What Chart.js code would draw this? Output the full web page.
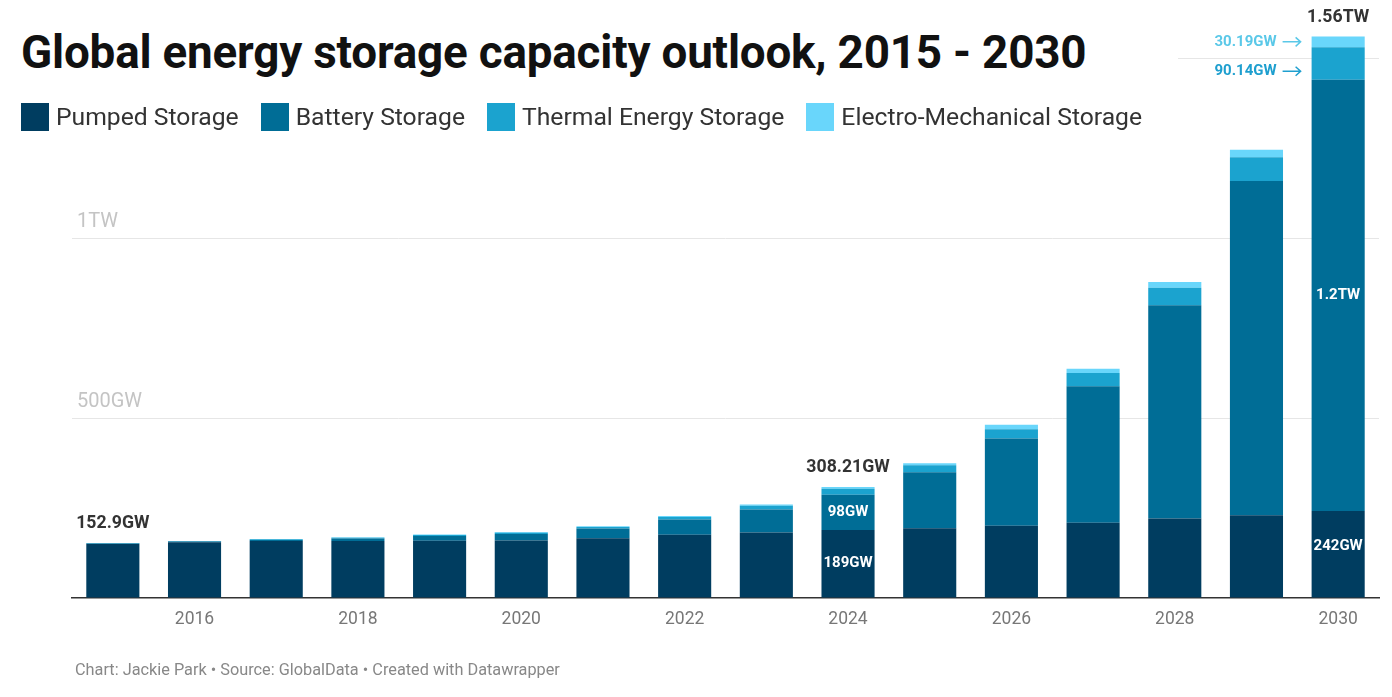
<!DOCTYPE html>
<html>
<head>
<meta charset="utf-8">
<script src="https://cdn.jsdelivr.net/npm/chart.js@4.4.1/dist/chart.umd.min.js"></script>
<style>
  html, body { margin: 0; padding: 0; background: #fff; }
  #wrap { position: relative; width: 1392px; height: 697px; overflow: hidden; font-family: Roboto, "Noto Sans", sans-serif; }
  #chart { position: absolute; left: 0; top: 0; }
  #head { position: absolute; left: 0; top: 0; width: 1178px; height: 92px; background: #fff; }
  h1 { position: absolute; left: 21px; top: 26px; margin: 0; font-size: 45.8px; font-weight: 700; color: #111; white-space: nowrap; letter-spacing: -0.2px; }
  #legend { position: absolute; left: 21px; top: 103px; display: flex; }
  .item { display: flex; align-items: center; margin-right: 22px; }
  .sw { width: 28px; height: 28px; margin-right: 7px; }
  .item span { font-size: 24.7px; line-height: 28px; color: #333; white-space: nowrap; }
  #foot { position: absolute; left: 75px; top: 660px; font-size: 16.3px; color: #888; white-space: nowrap; }
</style>
</head>
<body>
<div id="wrap">
  <canvas id="chart" width="1392" height="697"></canvas>
  <div id="head"><h1>Global energy storage capacity outlook, 2015 - 2030</h1></div>
  <div id="legend"></div>
  <div id="foot">Chart: Jackie Park • Source: GlobalData • Created with Datawrapper</div>
</div>
<script>
// datos (GW)
const years = ['2015', '2016', '2017', '2018', '2019', '2020', '2021', '2022',
               '2023', '2024', '2025', '2026', '2027', '2028', '2029', '2030'];
const xTickLabels = ['', '2016', '', '2018', '', '2020', '', '2022',
                     '', '2024', '', '2026', '', '2028', '', '2030'];
const seriesNames = ['Pumped Storage', 'Battery Storage', 'Thermal Energy Storage', 'Electro-Mechanical Storage'];
const seriesColors = ['#003d60', '#006d96', '#1ba3cf', '#69d6fb'];

const pumped  = [150, 155, 158, 158, 159, 160, 166, 176, 182, 189, 194, 201, 209, 221, 230, 242];
const battery = [1.5, 2, 3, 7, 13, 18, 27, 42, 64, 98, 155, 242, 379, 592, 928, 1197.67];
const thermal = [1, 1, 2, 2.5, 3, 3.5, 4.5, 7, 10, 16.2, 20, 26, 37, 49, 66, 90.14];
const electro = [0.4, 0.5, 0.7, 1, 1.2, 1.5, 2, 3, 4, 5.01, 5.5, 12, 12, 16, 21, 30.19];

const yTickValues = [0, 500, 1000, 1500];
const yTickLabels = ['', '500GW', '1TW', ''];

// etiquetas de totales sobre las barras
const totalLabels = ['152.9GW', '', '', '', '', '', '', '', '', '308.21GW', '', '', '', '', '', '1.56TW'];
// etiquetas dentro de las barras: indice de anio, serie, texto
const insideYear   = [9, 9, 15, 15];
const insideSeries = [0, 1, 0, 1];
const insideText   = ['189GW', '98GW', '242GW', '1.2TW'];
// etiquetas laterales de 2030
const sideSeries = [3, 2];
const sideText   = ['30.19GW', '90.14GW'];
const sideColors = ['#5ac8e8', '#1e9fcf'];

// leyenda en HTML
const legendEl = document.getElementById('legend');
seriesNames.forEach((n, i) => {
    const it = document.createElement('div');
    it.className = 'item';
    it.innerHTML = `<div class="sw" style="background:${seriesColors[i]}"></div><span>${n}</span>`;
    legendEl.appendChild(it);
});

const allSeries = [pumped, battery, thermal, electro];

const labelPlugin = {
    id: 'barLabels',
    afterDatasetsDraw(chart) {
        const { ctx, scales: { x, y } } = chart;
        ctx.save();
        ctx.textAlign = 'center';
        ctx.textBaseline = 'middle';

        // totales
        ctx.font = 'bold 17.7px Roboto';
        ctx.fillStyle = '#333';
        totalLabels.forEach((t, i) => {
            if (!t) return;
            const sum = allSeries.reduce((a, s) => a + s[i], 0);
            ctx.fillText(t, x.getPixelForValue(i), y.getPixelForValue(sum) - 19);
        });

        // dentro de las barras
        ctx.font = 'bold 15px Roboto';
        ctx.fillStyle = '#fff';
        insideText.forEach((t, k) => {
            const bar = chart.getDatasetMeta(insideSeries[k]).data[insideYear[k]];
            let cy = (bar.y + bar.base) / 2;
            if (k === 2) cy -= 8; // 242GW algo mas arriba
            ctx.fillText(t, bar.x, cy);
        });

        // laterales con flecha
        const last = years.length - 1;
        sideText.forEach((t, k) => {
            const bar = chart.getDatasetMeta(sideSeries[k]).data[last];
            const left = bar.x - bar.width / 2;
            const cy = k === 0 ? (bar.y + bar.base) / 2 : bar.y + 24;
            ctx.fillStyle = sideColors[k];
            ctx.strokeStyle = sideColors[k];
            ctx.textAlign = 'right';
            ctx.font = 'bold 15px Roboto';
            ctx.fillText(t, left - 35, cy);
            ctx.lineWidth = 1.5;
            ctx.beginPath();
            ctx.moveTo(left - 29, cy);
            ctx.lineTo(left - 11, cy);
            ctx.moveTo(left - 16, cy - 4.5);
            ctx.lineTo(left - 11, cy);
            ctx.lineTo(left - 16, cy + 4.5);
            ctx.stroke();
        });
        ctx.restore();
    }
};

new Chart(document.getElementById('chart'), {
    type: 'bar',
    data: {
        labels: years,
        datasets: allSeries.map((s, i) => ({
            label: seriesNames[i],
            data: s,
            backgroundColor: seriesColors[i],
            borderWidth: 0,
            barPercentage: 0.65,
            categoryPercentage: 1
        }))
    },
    options: {
        responsive: false,
        animation: false,
        layout: { padding: { left: 72, right: 13, top: 22, bottom: 0 } },
        plugins: {
            legend: { display: false },
            tooltip: { enabled: false }
        },
        scales: {
            x: {
                stacked: true,
                grid: { display: false },
                border: { display: true, color: '#333', width: 1.5 },
                ticks: {
                    autoSkip: false,
                    maxRotation: 0,
                    color: '#777',
                    padding: 3,
                    font: { family: 'Roboto', size: 17.5 },
                    callback: (v, i) => xTickLabels[i]
                },
                afterFit: s => { s.height = 99; }
            },
            y: {
                stacked: true,
                min: 0,
                max: 1600,
                afterBuildTicks: s => { s.ticks = yTickValues.map(v => ({ value: v })); },
                afterFit: s => { s.width = 0; },
                border: { display: false },
                grid: {
                    drawTicks: false,
                    color: c => (c.tick && c.tick.value === 0) ? 'rgba(0,0,0,0)' : '#e6e6e6'
                },
                ticks: {
                    mirror: true,
                    padding: 5,
                    labelOffset: -16,
                    color: '#c4c4c4',
                    font: { family: 'Roboto', size: 20 },
                    callback: (v, i) => yTickLabels[yTickValues.indexOf(v)]
                }
            }
        }
    },
    plugins: [labelPlugin]
});
</script>
</body>
</html>
